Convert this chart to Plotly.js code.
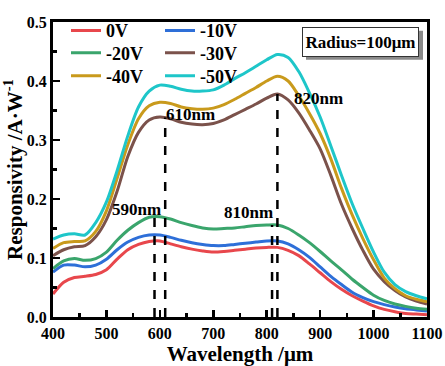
<!DOCTYPE html>
<html>
<head>
<meta charset="utf-8">
<script src="https://cdn.plot.ly/plotly-3.0.1.min.js"></script>
<style>html,body{margin:0;padding:0;background:#fff;}#chart{width:445px;height:366px;}</style>
</head>
<body>
<div id="chart"></div>
<script>
const wavelength = [400,420,440,460,480,500,520,540,560,580,600,620,640,660,680,700,720,740,760,780,800,820,840,860,880,900,920,940,960,980,1000,1020,1040,1060,1080,1100];

const v0   = [0.039,0.059,0.067,0.069,0.072,0.080,0.098,0.114,0.123,0.128,0.129,0.124,0.119,0.115,0.112,0.110,0.111,0.113,0.115,0.117,0.118,0.118,0.113,0.104,0.090,0.075,0.060,0.047,0.036,0.027,0.019,0.013,0.009,0.006,0.005,0.004];
const v10  = [0.076,0.088,0.088,0.085,0.088,0.098,0.114,0.127,0.135,0.139,0.139,0.135,0.130,0.126,0.123,0.121,0.121,0.123,0.125,0.127,0.129,0.129,0.124,0.114,0.101,0.085,0.069,0.055,0.042,0.033,0.026,0.021,0.017,0.014,0.012,0.010];
const v20  = [0.082,0.095,0.099,0.096,0.099,0.110,0.130,0.147,0.160,0.169,0.170,0.166,0.160,0.155,0.151,0.149,0.150,0.151,0.153,0.155,0.156,0.156,0.150,0.139,0.126,0.111,0.095,0.080,0.064,0.050,0.037,0.028,0.022,0.018,0.015,0.013];
const v30  = [0.104,0.114,0.119,0.121,0.136,0.165,0.213,0.272,0.313,0.334,0.339,0.336,0.330,0.327,0.326,0.328,0.334,0.343,0.352,0.361,0.371,0.378,0.368,0.346,0.317,0.285,0.240,0.191,0.150,0.113,0.081,0.060,0.045,0.034,0.027,0.022];
const v40  = [0.116,0.126,0.128,0.129,0.145,0.180,0.235,0.292,0.336,0.358,0.364,0.362,0.356,0.353,0.352,0.354,0.360,0.369,0.379,0.389,0.400,0.408,0.400,0.375,0.345,0.311,0.268,0.218,0.173,0.133,0.097,0.066,0.048,0.036,0.030,0.026];
const v50  = [0.132,0.139,0.141,0.139,0.160,0.195,0.248,0.307,0.356,0.383,0.393,0.391,0.386,0.383,0.383,0.385,0.393,0.404,0.414,0.425,0.436,0.445,0.440,0.416,0.380,0.339,0.290,0.240,0.192,0.150,0.110,0.076,0.055,0.043,0.036,0.031];

const seriesNames  = ['0V','-10V','-20V','-30V','-40V','-50V'];
const seriesValues = [v0, v10, v20, v30, v40, v50];
const seriesColors = ['#e8474c','#2e6fd8','#3aa56c','#7b524b','#c99a1c','#1ec6c9'];
const legendIds    = ['legend','legend','legend2','legend2','legend3','legend3'];

const peakWavelengths = [590, 610, 810, 820];
const peakHeights     = [0.170, 0.338, 0.156, 0.378];
const peakLabels      = ['590nm','610nm','810nm','820nm'];
const peakLabelX      = [557, 657, 765, 896];
const peakLabelY      = [0.182, 0.344, 0.177, 0.370];

const xTickVals = [400,500,600,700,800,900,1000,1100];
const yTickVals = [0.0,0.1,0.2,0.3,0.4,0.5];

const FONT = 'Liberation Serif';

const traces = seriesValues.map((vals, i) => ({
  x: wavelength, y: vals, type: 'scatter', mode: 'lines', name: seriesNames[i],
  line: {color: seriesColors[i], width: 3, shape: 'spline', smoothing: 0.8},
  legend: legendIds[i]
}));

const shapes = peakWavelengths.map((w, i) => ({
  type: 'line', xref: 'x', yref: 'y', x0: w, x1: w, y0: 0, y1: peakHeights[i],
  line: {color: '#000', width: 2.5, dash: 'dash'}
}));
// shadow of the Radius box
shapes.push({type: 'rect', xref: 'paper', yref: 'paper', layer: 'above',
  x0: (306-53)/374, x1: (423-53)/374, y0: (317-51)/305, y1: (317-21)/305,
  fillcolor: '#8a8a8a', line: {width: 0}});

const annotations = peakLabels.map((t, i) => ({
  x: peakLabelX[i], y: peakLabelY[i], xref: 'x', yref: 'y', text: t, showarrow: false,
  font: {family: FONT, size: 17, color: '#000', weight: 'bold'}
}));
annotations.push({
  xref: 'paper', yref: 'paper', x: (302-53)/374, y: (317-17)/305, xanchor: 'left', yanchor: 'top',
  text: 'Radius=100μm', showarrow: false, bgcolor: '#fff', bordercolor: '#333', borderwidth: 1,
  borderpad: 1, width: 113, height: 26,
  font: {family: FONT, size: 17, color: '#000', weight: 'bold'}
});

const legendBase = {
  orientation: 'h', xanchor: 'left', yanchor: 'middle', bgcolor: 'rgba(0,0,0,0)',
  entrywidth: 49, entrywidthmode: 'pixels', itemwidth: 30, tracegroupgap: 0,
  font: {family: FONT, size: 18, color: '#000', weight: 'bold'}
};
const lx = (66-53)/374;

const layout = {
  width: 445, height: 366,
  margin: {l: 53, r: 18, t: 12, b: 49},
  paper_bgcolor: '#fff', plot_bgcolor: '#fff',
  font: {family: FONT, color: '#000'},
  showlegend: true,
  legend:  Object.assign({}, legendBase, {x: lx, y: (317-21)/305}),
  legend2: Object.assign({}, legendBase, {x: lx, y: (317-44)/305}),
  legend3: Object.assign({}, legendBase, {x: lx, y: (317-68)/305}),
  xaxis: {
    range: [400, 1100], tickvals: xTickVals, ticks: 'inside', ticklen: 7, tickwidth: 2.5,
    tickcolor: '#000', showline: true, linewidth: 3, linecolor: '#000', mirror: true,
    showgrid: false, zeroline: false,
    minor: {dtick: 50, tick0: 400, ticks: 'inside', ticklen: 4, tickwidth: 2.5, tickcolor: '#000'},
    tickfont: {family: FONT, size: 16, color: '#000', weight: 'bold'},
    title: {text: 'Wavelength /μm', font: {family: FONT, size: 21, color: '#000', weight: 'bold'}, standoff: 4}
  },
  yaxis: {
    range: [0, 0.5], tickvals: yTickVals, tickformat: '.1f', ticks: 'inside', ticklen: 7, tickwidth: 2.5,
    tickcolor: '#000', showline: true, linewidth: 3, linecolor: '#000', mirror: true,
    showgrid: false, zeroline: false,
    minor: {dtick: 0.05, tick0: 0, ticks: 'inside', ticklen: 4, tickwidth: 2.5, tickcolor: '#000'},
    tickfont: {family: FONT, size: 16, color: '#000', weight: 'bold'},
    title: {text: 'Responsivity /A·W<sup>-1</sup>', font: {family: FONT, size: 21, color: '#000', weight: 'bold'}, standoff: 4}
  },
  shapes: shapes,
  annotations: annotations
};

Plotly.newPlot('chart', traces, layout, {displayModeBar: false, staticPlot: true});
</script>
</body>
</html>
